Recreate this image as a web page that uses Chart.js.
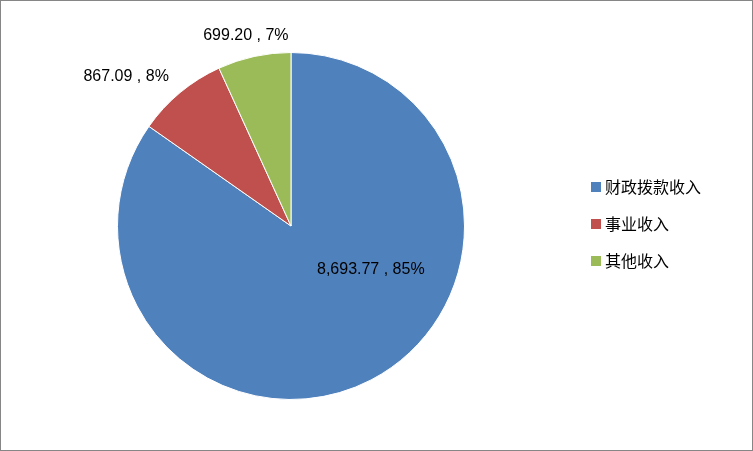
<!DOCTYPE html>
<html><head><meta charset="utf-8">
<script src="https://cdn.jsdelivr.net/npm/chart.js@4"></script>
<style>
html,body{margin:0;padding:0;background:#fff;}
#wrap{position:relative;width:751px;height:449px;border:1px solid #868686;}
</style></head>
<body><div id="wrap"><canvas id="c" width="751" height="449"></canvas></div>
<script>
var categories = ['财政拨款收入', '事业收入', '其他收入'];
var values = [8693.77, 867.09, 699.20];
var percents = ['85%', '8%', '7%'];
var colors = ['#4f81bd', '#c0504d', '#9bbb59'];
// label anchor relative to pie centre, in units of radius
var labelPos = [[0.46, 0.25], [-0.95, -0.86], [-0.26, -1.10]];

var fmt = function (v) {
  return v.toLocaleString('en-US', { minimumFractionDigits: 2, maximumFractionDigits: 2 });
};

var extras = {
  id: 'extras',
  afterDatasetsDraw: function (chart) {
    var ctx = chart.ctx;
    var arc = chart.getDatasetMeta(0).data[0];
    var cx = arc.x, cy = arc.y, r = arc.outerRadius;
    ctx.save();
    ctx.font = '16px "Liberation Sans", Arial, sans-serif';
    ctx.fillStyle = '#000';
    ctx.textAlign = 'center';
    ctx.textBaseline = 'middle';
    for (var i = 0; i < values.length; i++) {
      ctx.fillText(fmt(values[i]) + ' , ' + percents[i], cx + labelPos[i][0] * r, cy + labelPos[i][1] * r);
    }
    ctx.font = '16px "Noto Sans CJK SC", sans-serif';
    ctx.textAlign = 'left';
    for (var j = 0; j < categories.length; j++) {
      var y = 186 + j * 37;
      ctx.fillStyle = colors[j];
      ctx.fillRect(590, y - 5, 10, 10);
      ctx.fillStyle = '#000';
      ctx.fillText(categories[j], 604, y);
    }
    ctx.restore();
  }
};

new Chart(document.getElementById('c'), {
  type: 'pie',
  data: {
    labels: categories,
    datasets: [{ data: values, backgroundColor: colors, borderColor: '#fff', borderWidth: 1 }]
  },
  options: {
    responsive: false,
    animation: false,
    layout: { padding: { left: 116, right: 287, top: 51, bottom: 50 } },
    plugins: { legend: { display: false }, tooltip: { enabled: false } }
  },
  plugins: [extras]
});
</script></body></html>
